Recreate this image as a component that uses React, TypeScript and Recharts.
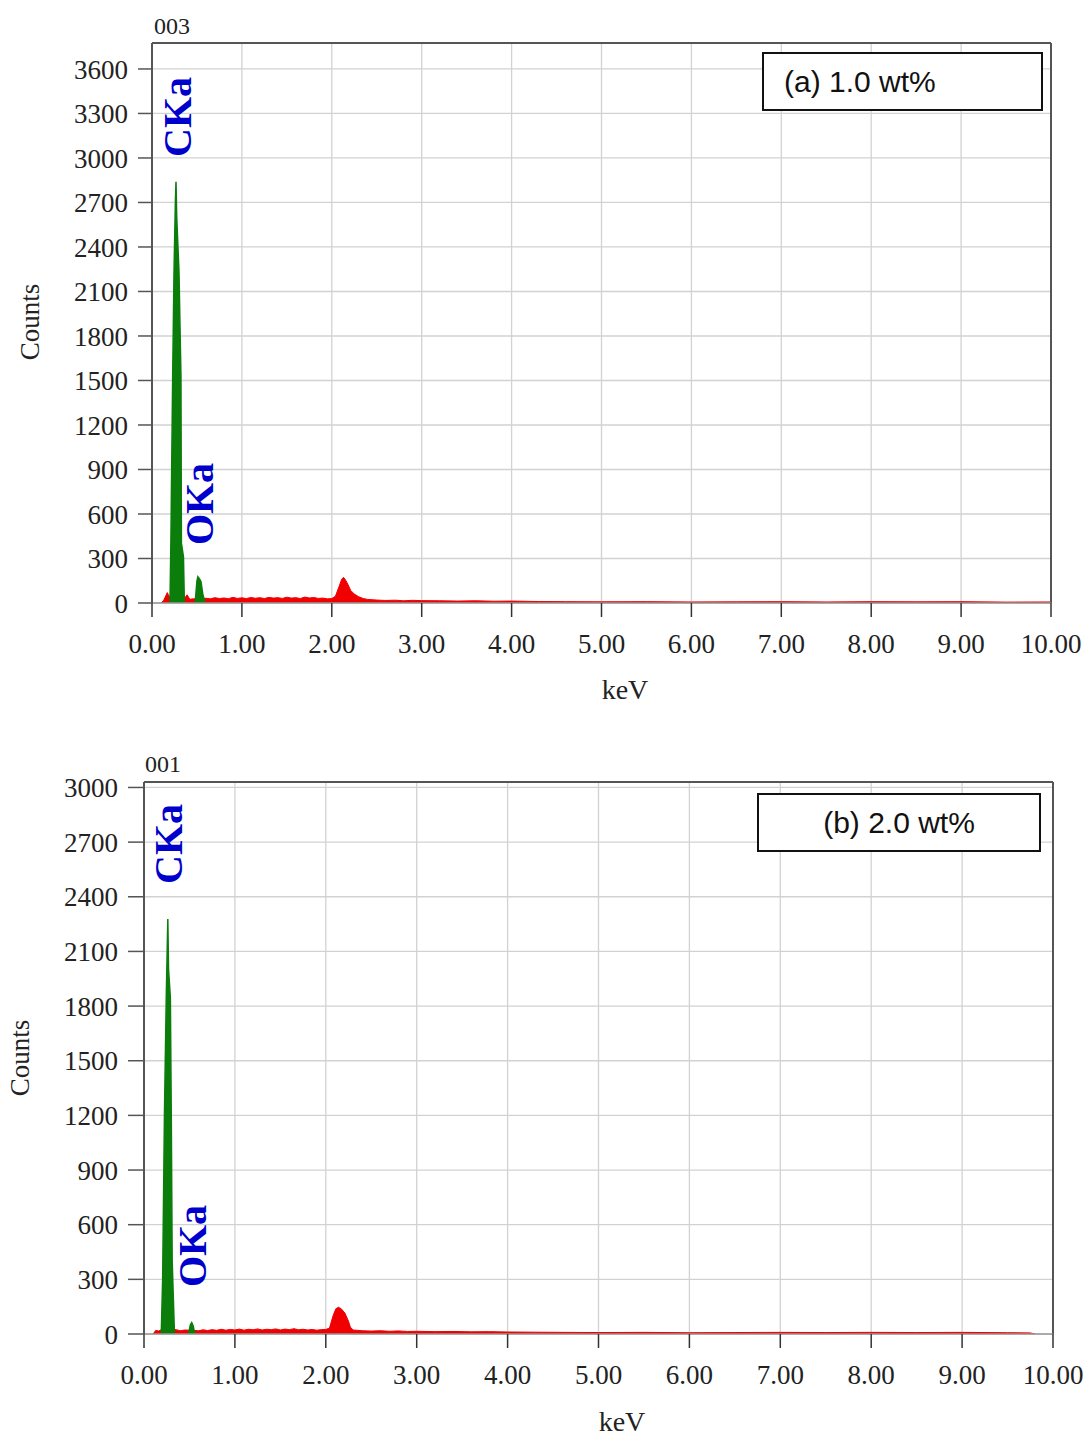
import React from 'react';
import { AreaChart, Area, XAxis, YAxis, CartesianGrid, ReferenceLine } from 'recharts';

// ---------- shared ticks ----------
const xTicks = [0, 1, 2, 3, 4, 5, 6, 7, 8, 9, 10];
const yTicksA = [0, 300, 600, 900, 1200, 1500, 1800, 2100, 2400, 2700, 3000, 3300, 3600];
const yTicksB = [0, 300, 600, 900, 1200, 1500, 1800, 2100, 2400, 2700, 3000];

// ---------- (a) 1.0 wt% : red background spectrum ----------
const bgKevA = [0.10, 0.13, 0.17, 0.19, 0.36, 0.39, 0.42, 0.46, 0.60, 0.65, 0.70, 0.75, 0.80, 0.85, 0.90, 0.95, 1.00, 1.05, 1.10, 1.15, 1.20, 1.25, 1.30, 1.35, 1.40, 1.45, 1.50, 1.55, 1.60, 1.65, 1.70, 1.75, 1.80, 1.85, 1.90, 1.95, 2.00, 2.04, 2.08, 2.11, 2.13, 2.15, 2.18, 2.21, 2.25, 2.30, 2.35, 2.40, 2.50, 2.60, 2.70, 2.80, 2.90, 3.00, 3.20, 3.40, 3.60, 3.80, 4.00, 4.30, 4.60, 5.00, 5.50, 6.00, 6.50, 7.00, 7.50, 8.00, 8.50, 9.00, 9.50, 10.00];
const bgCountsA = [0, 18, 70, 45, 30, 55, 25, 28, 32, 28, 36, 30, 34, 29, 38, 31, 35, 30, 37, 32, 36, 30, 38, 33, 36, 31, 39, 33, 36, 30, 40, 34, 37, 31, 33, 28, 30, 45, 110, 160, 173, 158, 125, 85, 60, 42, 30, 24, 20, 17, 19, 15, 18, 16, 15, 13, 15, 12, 13, 10, 9, 8, 9, 7, 8, 9, 7, 9, 8, 9, 6, 7];

// ---------- (a) 1.0 wt% : green identified peaks (C Ka, O Ka) ----------
const peakKevA = [0.20, 0.21, 0.23, 0.245, 0.26, 0.267, 0.275, 0.30, 0.322, 0.327, 0.35, 0.36, 0.48, 0.50, 0.51, 0.53, 0.545, 0.565, 0.59];
const peakCountsA = [0, 404, 1526, 2234, 2700, 2840, 2600, 2234, 1526, 404, 312, 0, 0, 150, 177, 160, 143, 60, 0];

// ---------- (b) 2.0 wt% : red background spectrum ----------
const bgKevB = [0.10, 0.13, 0.16, 0.19, 0.34, 0.40, 0.45, 0.60, 0.65, 0.70, 0.75, 0.80, 0.85, 0.90, 0.95, 1.00, 1.05, 1.10, 1.15, 1.20, 1.25, 1.30, 1.35, 1.40, 1.45, 1.50, 1.55, 1.60, 1.65, 1.70, 1.75, 1.80, 1.85, 1.90, 1.95, 2.00, 2.04, 2.08, 2.11, 2.14, 2.17, 2.21, 2.25, 2.27, 2.30, 2.40, 2.50, 2.60, 2.70, 2.80, 2.90, 3.00, 3.20, 3.40, 3.60, 3.80, 4.00, 4.30, 4.60, 5.00, 5.50, 6.00, 6.50, 7.00, 7.50, 8.00, 8.50, 9.00, 9.50, 9.75, 9.80];
const bgCountsB = [0, 20, 16, 24, 25, 18, 22, 18, 23, 19, 24, 20, 26, 21, 25, 22, 27, 21, 26, 23, 28, 22, 26, 24, 28, 22, 27, 24, 29, 23, 26, 22, 25, 21, 24, 25, 32, 100, 138, 147, 138, 115, 70, 38, 22, 18, 16, 18, 15, 17, 14, 15, 13, 14, 12, 13, 11, 10, 9, 8, 9, 7, 8, 9, 8, 9, 8, 9, 7, 6, 0];

// ---------- (b) 2.0 wt% : green identified peaks (C Ka, O Ka) ----------
const peakKevB = [0.19, 0.205, 0.225, 0.245, 0.262, 0.27, 0.29, 0.30, 0.31, 0.32, 0.335, 0.49, 0.51, 0.525, 0.54, 0.56];
const peakCountsB = [0, 297, 1203, 1850, 2278, 2000, 1846, 1200, 400, 242, 0, 0, 50, 62, 45, 0];

type Row = { keV: number; bg: number | null; pk: number | null };

function buildRows(bgK: number[], bgC: number[], pkK: number[], pkC: number[]): Row[] {
  const map = new Map<number, Row>();
  bgK.forEach((k, i) => {
    const r = map.get(k) || { keV: k, bg: null, pk: null };
    r.bg = bgC[i];
    map.set(k, r);
  });
  pkK.forEach((k, i) => {
    const r = map.get(k) || { keV: k, bg: null, pk: null };
    r.pk = pkC[i];
    map.set(k, r);
  });
  return Array.from(map.values()).sort((a, b) => a.keV - b.keV);
}

const rowsA = buildRows(bgKevA, bgCountsA, peakKevA, peakCountsA);
const rowsB = buildRows(bgKevB, bgCountsB, peakKevB, peakCountsB);

const SERIF = '"Liberation Serif", "Times New Roman", serif';
const SANS = '"Liberation Sans", Arial, sans-serif';
const RED = '#f00000';
const GREEN = '#0b7d0b';
const BLUE = '#0000cc';
const FRAME = '#555555';
const GRID = '#d2d2d2';

const tickStyle = { fontFamily: SERIF, fontSize: 27, fill: '#222' };

type SpecProps = {
  rows: Row[];
  yTicks: number[];
  yMax: number;
  margin: { top: number; right: number; bottom: number; left: number };
  yTickSize: number;
};

function Spectrum({ rows, yTicks, yMax, margin, yTickSize }: SpecProps) {
  return (
    <AreaChart width={1089} height={720} data={rows} margin={margin}>
      <CartesianGrid stroke={GRID} strokeWidth={1.3} />
      <XAxis
        dataKey="keV"
        type="number"
        domain={[0, 10]}
        ticks={xTicks}
        interval={0}
        tickFormatter={(v: number) => v.toFixed(2)}
        height={30}
        tickSize={14}
        tickMargin={17}
        tick={tickStyle}
        axisLine={{ stroke: '#999', strokeWidth: 1.5 }}
        tickLine={{ stroke: '#333', strokeWidth: 1.5 }}
      />
      <YAxis
        type="number"
        domain={[0, yMax]}
        ticks={yTicks}
        interval={0}
        width={60}
        tickSize={yTickSize}
        tickMargin={10}
        tick={tickStyle}
        axisLine={{ stroke: FRAME, strokeWidth: 2 }}
        tickLine={{ stroke: FRAME, strokeWidth: 1.5 }}
      />
      <Area
        dataKey="bg"
        type="linear"
        stroke={RED}
        strokeWidth={1}
        fill={RED}
        fillOpacity={1}
        connectNulls
        dot={false}
        activeDot={false}
        isAnimationActive={false}
      />
      <Area
        dataKey="pk"
        type="linear"
        stroke={GREEN}
        strokeWidth={1.5}
        fill={GREEN}
        fillOpacity={1}
        connectNulls={false}
        dot={false}
        activeDot={false}
        isAnimationActive={false}
      />
      <ReferenceLine y={yMax} stroke={FRAME} strokeWidth={2} />
      <ReferenceLine x={10} stroke={FRAME} strokeWidth={2} />
    </AreaChart>
  );
}

const abs = (left: number, top: number): React.CSSProperties => ({
  position: 'absolute',
  left,
  top,
  transform: 'translate(-50%, -50%)',
  whiteSpace: 'nowrap',
  lineHeight: 1,
});

const rot = (left: number, top: number): React.CSSProperties => ({
  ...abs(left, top),
  transform: 'translate(-50%, -50%) rotate(-90deg)',
});

export default function App() {
  return (
    <div style={{ position: 'absolute', left: 0, top: 0, width: 1089, height: 1440, background: '#fff', overflow: 'hidden' }}>
      {/* ---------- panel (a) ---------- */}
      <div style={{ position: 'absolute', left: 0, top: 0 }}>
        <Spectrum
          rows={rowsA}
          yTicks={yTicksA}
          yMax={3775}
          margin={{ top: 43, right: 38, bottom: 87, left: 92 }}
          yTickSize={14}
        />
      </div>
      <div style={{ ...abs(172, 26), fontFamily: SERIF, fontSize: 24, color: '#222' }}>003</div>
      <div style={{ ...rot(30, 322), fontFamily: SERIF, fontSize: 27, color: '#222' }}>Counts</div>
      <div style={{ ...abs(625, 690), fontFamily: SERIF, fontSize: 28, color: '#222' }}>keV</div>
      <div style={{ ...rot(178, 117), fontFamily: SERIF, fontSize: 40, fontWeight: 'bold', color: BLUE }}>CKa</div>
      <div style={{ ...rot(200, 504), fontFamily: SERIF, fontSize: 40, fontWeight: 'bold', color: BLUE }}>OKa</div>
      <div
        style={{
          position: 'absolute', left: 762, top: 52, width: 281, height: 59, boxSizing: 'border-box',
          border: '2px solid #111', background: '#fff', display: 'flex', alignItems: 'center',
          paddingLeft: 20, fontFamily: SANS, fontSize: 30, color: '#111',
        }}
      >
        (a) 1.0 wt%
      </div>

      {/* ---------- panel (b) ---------- */}
      <div style={{ position: 'absolute', left: 0, top: 720 }}>
        <Spectrum
          rows={rowsB}
          yTicks={yTicksB}
          yMax={3030}
          margin={{ top: 62, right: 36, bottom: 76, left: 84 }}
          yTickSize={16}
        />
      </div>
      <div style={{ ...abs(163, 764), fontFamily: SERIF, fontSize: 24, color: '#222' }}>001</div>
      <div style={{ ...rot(20, 1058), fontFamily: SERIF, fontSize: 27, color: '#222' }}>Counts</div>
      <div style={{ ...abs(622, 1422), fontFamily: SERIF, fontSize: 28, color: '#222' }}>keV</div>
      <div style={{ ...rot(169, 844), fontFamily: SERIF, fontSize: 40, fontWeight: 'bold', color: BLUE }}>CKa</div>
      <div style={{ ...rot(193, 1246), fontFamily: SERIF, fontSize: 40, fontWeight: 'bold', color: BLUE }}>OKa</div>
      <div
        style={{
          position: 'absolute', left: 757, top: 793, width: 284, height: 59, boxSizing: 'border-box',
          border: '2px solid #111', background: '#fff', display: 'flex', alignItems: 'center',
          justifyContent: 'center', fontFamily: SANS, fontSize: 30, color: '#111',
        }}
      >
        (b) 2.0 wt%
      </div>
    </div>
  );
}
